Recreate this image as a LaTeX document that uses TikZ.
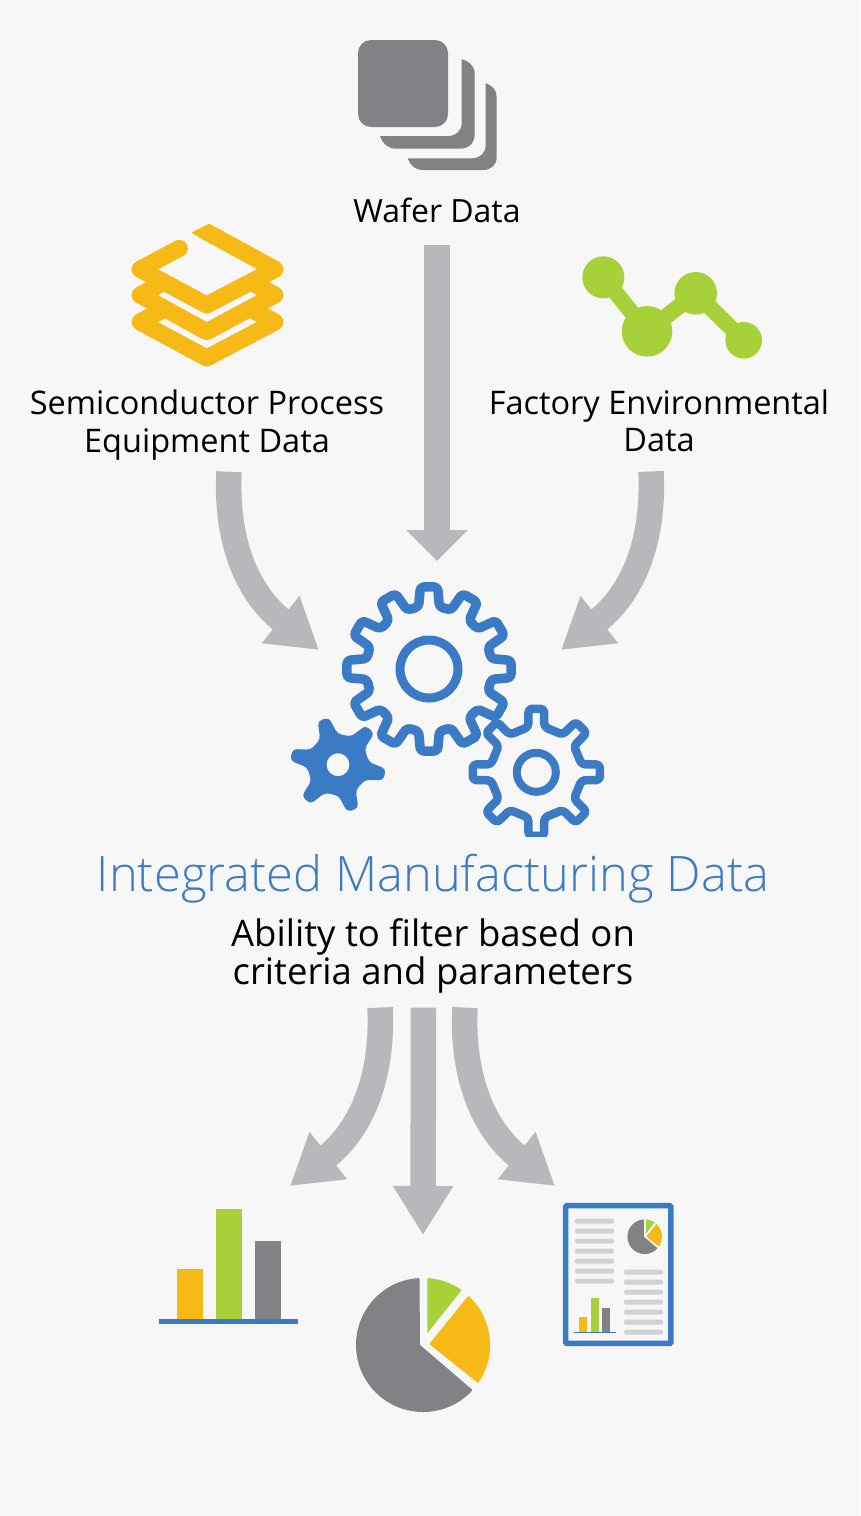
\documentclass[tikz,border=0pt]{standalone}
\usepackage{fontspec}
\setmainfont{Open Sans}
\newfontfamily\lightfont{Open Sans Light}
\usetikzlibrary{arrows.meta,calc}
\definecolor{bgc}{HTML}{F7F7F7}
\definecolor{flowc}{HTML}{B7B8BB}
\definecolor{greyc}{HTML}{818285}
\definecolor{bluec}{HTML}{3B7BC6}
\definecolor{yelc}{HTML}{F7B916}
\definecolor{grnc}{HTML}{A8D039}
\definecolor{linec}{HTML}{D1D2D4}
\tikzset{flow/.style={draw=flowc, line width=25.5pt, -{Triangle[length=49pt,width=57pt]}},
  flowtop/.style={flow, -{Triangle[length=31pt,width=60pt]}},
  lbl/.style={inner sep=0pt, align=center, font=\fontsize{32.5}{37.5}\selectfont},
  gearline/.style={draw=bluec, line join=round, rounded corners=3.5pt},
  layer/.style={draw=yelc, line width=17pt, line join=round},
  txtline/.style={linec, rounded corners=1.5pt}}
% teeth, tip radius, root radius, half angle at tip, half angle at root
\newcommand{\gearoutline}[5]{(#4:#2)
  \foreach \g in {1,...,\the\numexpr#1-1\relax} {
    -- ({(\g-1)*360/#1+#5}:#3) -- ({\g*360/#1-#5}:#3) -- ({\g*360/#1-#4}:#2) -- ({\g*360/#1+#4}:#2)}
  -- ({(#1-1)*360/#1+#5}:#3) -- ({-#5}:#3) -- ({-#4}:#2) -- cycle}

\begin{document}
\begin{tikzpicture}[x=1pt, y=-1pt]
  \fill[bgc] (0,0) rectangle (860,1516);
  \node[lbl, font=\fontsize{32}{37.5}\selectfont] (waferlbl) at (437,210) {Wafer Data};
  \node[lbl] (equiplbl) at (207,425) {Semiconductor Process\\Equipment Data};
  \node[lbl] (envlbl) at (659,421) {Factory Environmental\\Data};
  \node[lbl, font=\lightfont\fontsize{48.8}{48}\selectfont, text=bluec] (titlelbl) at (433,879) {Integrated Manufacturing Data};
  \node[lbl, font=\fontsize{36.5}{38}\selectfont] (filterlbl) at (433,956) {Ability to filter based on\\criteria and parameters};
  \coordinate (gears) at (429,669);
  \coordinate (barchart) at (229,1265);
  \coordinate (piechart) at (423,1345);
  \coordinate (report) at (618,1274);
  % wafer stack
  \fill[greyc] (371,40) -- (435,40) arc[start angle=-90, end angle=0, radius=13] -- (448,114) arc[start angle=0, end angle=90, radius=13] -- (371,127) arc[start angle=90, end angle=180, radius=13] -- (358,53) arc[start angle=180, end angle=270, radius=13] -- cycle;
  \fill[greyc] (461.7,59.3) .. controls (469,61) and (474.7,66) .. (474.7,74) -- (474.7,134) .. controls (474.7,143) and (469,148.7) .. (460,148.7) -- (396,148.7) .. controls (388,148.7) and (382,143) .. (380,136) -- (448,136) .. controls (456,136) and (461.7,131) .. (461.7,123) -- cycle;
  \fill[greyc] (485.7,83.3) .. controls (492,85) and (496.7,90) .. (496.7,97) -- (496.7,157) .. controls (496.7,165) and (491,170) .. (483,170) -- (423,170) .. controls (415,170) and (410,165) .. (407.7,158.3) -- (472,158.3) .. controls (480,158.3) and (485.7,153) .. (485.7,145) -- cycle;
  % layers
  \draw[layer] (164.3,309) -- (140,322) -- (206.7,358) -- (275,322) -- (250.8,309);
  \draw[layer] (164.3,282) -- (140,295) -- (206.7,331.7) -- (275,295) -- (250.8,282);
  \draw[layer] (179.3,248.3) -- (140,269.3) -- (206.7,305) -- (275,269.3) -- (205.2,231.1);
  \fill[yelc] (179.3,248.3) circle (8.5);
  \fill[yelc] (209.3,223.7) -- (191.3,232.7) -- (201,238.5) -- cycle;
  % sensor trace
  \draw[grnc, line width=16pt] (603.3,277.3) -- (647,331.3) -- (695.7,293.3) -- (743.7,340.3);
  \fill[grnc] (603.3,277.3) circle (21) (647,331.3) circle (25.3) (695.7,293.3) circle (21.3) (743.7,340.3) circle (18.3);
  % arrows into the gears
  \draw[flowtop] ($(waferlbl.south)+(0,22)$) -- ($(gears)+(8,-108)$);
  \draw[flow] ($(equiplbl.south)+(22,11.5)$) .. controls (226,530) and (241,588) .. ($(gears)+(-110,-19)$);
  \draw[flow] ($(envlbl.south)+(-8,19)$) .. controls (654,530) and (639,588) .. ($(gears)+(132,-19)$);
  % gears
  \begin{scope}[shift={(gears)}]
    \draw[gearline, line width=9.5pt] \gearoutline{12}{82.5}{63}{6}{9.5};
    \draw[bluec, line width=9pt] (0,0) circle (29);
  \end{scope}
  \begin{scope}[shift={(338,764.7)}, rotate=48]
    \fill[bluec, even odd rule, rounded corners=4pt] \gearoutline{6}{48}{31}{7}{17} (0,0) circle (11.5);
  \end{scope}
  \begin{scope}
    \clip (460,700) rectangle (620,836.5);
    \begin{scope}[shift={(536.3,772.3)}]
      \draw[gearline, line width=8.5pt] \gearoutline{8}{64}{46}{7}{10};
      \draw[bluec, line width=8pt] (0,0) circle (19.5);
    \end{scope}
  \end{scope}
  % arrows out of the filter text
  \draw[flow] ($(filterlbl.south)+(-53,14)$) .. controls (383,1065) and (368,1124) .. ($(barchart)+(61,-79)$);
  \draw[flow] ($(filterlbl.south)+(-9.5,14)$) -- ($(piechart)+(0,-110)$);
  \draw[flow] ($(filterlbl.south)+(32,14)$) .. controls (462,1065) and (477,1124) .. ($(report)+(-63,-88)$);
  % bar chart
  \fill[yelc] (177,1269) rectangle (203,1320);
  \fill[grnc] (216,1209) rectangle (242,1320);
  \fill[greyc] (255,1241) rectangle (281,1320);
  \fill[bluec] (159,1319) rectangle (298,1324);
  % pie
  \begin{scope}[shift={(piechart)}]
    \fill[greyc, rounded corners=0.8pt] (-3,0) -- (-93:67) arc[start angle=-93, end angle=-317.8, radius=67] -- cycle;
    \fill[grnc, rounded corners=0.8pt] (4.3,-11.7) -- (4.3,-67) arc[start angle=273.7, end angle=305.1, radius=67.2] -- cycle;
    \fill[yelc, rounded corners=0.8pt] (6.3,-1) -- (45.3,-49.3) arc[start angle=312.6, end angle=394.7, radius=67] -- cycle;
  \end{scope}
  % report page
  \draw[bluec, line width=5.5pt, rounded corners=1pt] (565.7,1205.7) rectangle (670.8,1343.3);
  \foreach \ty in {1221,1231,1241,1251,1261,1271,1281}
    \fill[txtline] (575,\ty-2.5) rectangle (614,\ty+2.5);
  \foreach \ty in {1272,1282,1292,1302,1312,1322,1332}
    \fill[txtline] (624,\ty-2.5) rectangle (663,\ty+2.5);
  \begin{scope}[shift={(644.7,1236.7)}, scale=0.258]
    \fill[greyc] (-3,0) -- (-93:67) arc[start angle=-93, end angle=-317.8, radius=67] -- cycle;
    \fill[grnc] (4.3,-11.7) -- (4.3,-67) arc[start angle=273.7, end angle=305.1, radius=67.2] -- cycle;
    \fill[yelc] (6.3,-1) -- (45.3,-49.3) arc[start angle=312.6, end angle=394.7, radius=67] -- cycle;
  \end{scope}
  \fill[yelc] (579,1316.7) rectangle (587,1332);
  \fill[grnc] (590.7,1298.3) rectangle (598.7,1332);
  \fill[greyc] (602.3,1308) rectangle (610.3,1332);
  \fill[bluec] (574,1332) rectangle (615.7,1333.3);
\end{tikzpicture}
\end{document}
